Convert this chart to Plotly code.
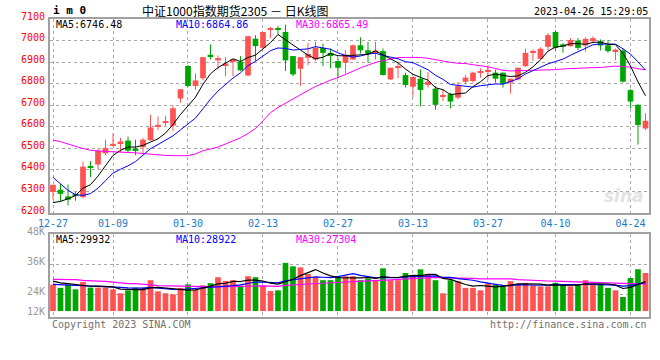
import plotly.graph_objects as go

# ---------------- data ----------------
tick_idx = [0, 8, 18, 28, 38, 48, 58, 67, 77]
tick_labels = ["12-27", "01-09", "01-30", "02-13", "02-27", "03-13", "03-27", "04-10", "04-24"]

opens = [6297, 6308, 6277, 6284, 6274, 6415, 6425, 6477, 6515, 6523,
         6536, 6500, 6505, 6538, 6603, 6618, 6605, 6731, 6882, 6789,
         6825, 6931, 6908, 6886, 6905, 6902, 6838, 7009, 6966, 7051,
         7052, 7040, 6928, 6869, 6920, 6912, 6966, 6943, 6905, 6897,
         6912, 6978, 6955, 6946, 6951, 6820, 6874, 6840, 6786, 6823,
         6794, 6777, 6740, 6751, 6735, 6809, 6812, 6851, 6858, 6851,
         6851, 6805, 6820, 6881, 6946, 6915, 6971, 7040, 6982, 6974,
         7000, 6977, 6997, 6997, 6978, 6951, 6954, 6770, 6702, 6592]
highs = [6331, 6335, 6332, 6297, 6438, 6440, 6497, 6540, 6569, 6548,
         6555, 6540, 6548, 6655, 6648, 6651, 6697, 6774, 6886, 6848,
         6923, 6982, 6931, 6923, 6915, 6928, 7023, 7025, 7040, 7063,
         7069, 7074, 6928, 6923, 6989, 6994, 6986, 6963, 6920, 6955,
         6982, 7015, 6994, 6994, 6963, 6874, 6897, 6851, 6835, 6866,
         6854, 6789, 6774, 6758, 6808, 6840, 6855, 6871, 6885, 6866,
         6851, 6823, 6874, 6962, 6958, 6969, 7035, 7048, 6989, 7012,
         7012, 7015, 7020, 7005, 7002, 6963, 6963, 6775, 6705, 6663]
lows = [6263, 6254, 6235, 6257, 6269, 6366, 6402, 6469, 6509, 6482,
        6478, 6469, 6478, 6535, 6585, 6605, 6582, 6712, 6786, 6771,
        6815, 6912, 6866, 6835, 6835, 6858, 6835, 6905, 6963, 7012,
        7028, 6858, 6835, 6789, 6886, 6905, 6881, 6871, 6825, 6848,
        6909, 6940, 6897, 6912, 6838, 6817, 6825, 6782, 6738, 6694,
        6782, 6679, 6720, 6685, 6728, 6797, 6805, 6828, 6820, 6805,
        6782, 6754, 6815, 6878, 6905, 6912, 6955, 6954, 6943, 6971,
        6955, 6948, 6992, 6954, 6943, 6909, 6805, 6685, 6517, 6585]
closes = [6331, 6289, 6262, 6280, 6415, 6411, 6489, 6502, 6519, 6532,
          6489, 6488, 6540, 6597, 6607, 6622, 6686, 6774, 6789, 6815,
          6923, 6928, 6919, 6894, 6912, 6862, 7020, 6974, 7040, 7058,
          7049, 6908, 6843, 6923, 6938, 6966, 6943, 6928, 6874, 6935,
          6978, 6955, 6938, 6954, 6840, 6874, 6877, 6794, 6831, 6771,
          6809, 6702, 6748, 6717, 6789, 6828, 6851, 6858, 6861, 6823,
          6800, 6823, 6874, 6943, 6951, 6962, 7025, 6966, 6971, 7002,
          6966, 7008, 7011, 6977, 6951, 6958, 6809, 6717, 6608, 6628]
volumes = [27900, 26600, 27900, 26000, 29000, 26700, 26700, 26700, 26000, 24400,
           25600, 26700, 26700, 29700, 25200, 24400, 24000, 26600, 28000, 25900,
           27600, 28500, 30900, 29400, 29700, 27400, 31300, 30900, 27500, 25300,
           25600, 36700, 35300, 34900, 32200, 30900, 29700, 29700, 31300, 31300,
           31300, 29700, 30400, 29700, 34500, 29700, 29700, 32600, 31700, 34100,
           32200, 29700, 24400, 29700, 29300, 26600, 26600, 25600, 28300, 27900,
           27600, 29300, 27900, 28600, 27600, 27200, 27200, 28600, 27600, 27200,
           27900, 29700, 28300, 28300, 26600, 25600, 22900, 30600, 34100, 32600]

ma5_head = [6248, 6254, 6266, 6281]
ma10_head = [6365, 6335, 6305, 6285, 6282, 6290, 6315, 6350, 6385]
ma30_head = [6538, 6531, 6520, 6508, 6499, 6491, 6487, 6485, 6484, 6483,
             6482, 6479, 6476, 6472, 6469, 6467, 6466, 6466, 6466, 6474,
             6489, 6497, 6506, 6520, 6534, 6549, 6569, 6592, 6628]
vma5_head = [29300, 28600, 28300, 28000]
vma10_head = [28000, 27900, 27800, 27700, 27600, 27500, 27300, 27100, 26900]
vma30_head = [30000, 30000, 30000, 29900, 29600, 29300, 29300, 29200, 28800, 28400,
              28300, 28300, 28200, 27800, 27500, 27400, 27400, 27300, 27200, 27000,
              27000, 27000, 27000, 27100, 27200, 27200, 27300, 27300, 27400]

price_ticks = [6200, 6300, 6400, 6500, 6600, 6700, 6800, 6900, 7000, 7100]
vol_ticks = [24000, 36000, 48000]
vol_tick_labels = ["24K", "36K", "48K"]
vol_low_label = "12K"

title_text = "中证1000指数期货2305 － 日K线图"
code_text = "i m 0"
time_text = "2023-04-26 15:29:05"
ma_price_text = ["MA5:6746.48", "MA10:6864.86", "MA30:6865.49"]
ma_vol_text = ["MA5:29932", "MA10:28922", "MA30:27304"]

# ---------------- helpers ----------------
def moving_avg(vals, n, head):
    out = list(head)
    for i in range(len(head), len(vals)):
        w = vals[i - n + 1:i + 1]
        out.append(sum(w) / n)
    return out

n = len(closes)
xs = list(range(n))
ma5 = moving_avg(closes, 5, ma5_head)
ma10 = moving_avg(closes, 10, ma10_head)
ma30 = moving_avg(closes, 30, ma30_head)
vma5 = moving_avg(volumes, 5, vma5_head)
vma10 = moving_avg(volumes, 10, vma10_head)
vma30 = moving_avg(volumes, 30, vma30_head)

RED = "#FF5252"
GREEN = "#00A600"
MONO = "DejaVu Sans Mono"
W, H = 660, 360
L, R = 50, 649
P_TOP, P_BOT = 19, 213
V_TOP, V_BOT = 234, 317

def px(x):
    return x / W

def py(y):
    return 1 - y / H

up = [c >= o for o, c in zip(opens, closes)]

fig = go.Figure()

# wicks
for flag, col in ((True, RED), (False, GREEN)):
    wx, wy = [], []
    for i in xs:
        if up[i] == flag:
            wx += [i, i, None]
            wy += [lows[i], highs[i], None]
    fig.add_trace(go.Scatter(x=wx, y=wy, mode="lines", line=dict(color=col, width=1),
                             xaxis="x", yaxis="y", hoverinfo="skip"))

# bodies
for flag, col in ((True, RED), (False, GREEN)):
    bx = [i for i in xs if up[i] == flag]
    base = [min(opens[i], closes[i]) for i in bx]
    hgt = [max(abs(closes[i] - opens[i]), 6) for i in bx]
    fig.add_trace(go.Bar(x=bx, y=hgt, base=base, width=0.76, marker=dict(color=col, line=dict(width=0)),
                         xaxis="x", yaxis="y", hoverinfo="skip"))

# price MAs
for vals, col in ((ma30, "#FF00FF"), (ma10, "#0000FF"), (ma5, "#000000")):
    fig.add_trace(go.Scatter(x=xs, y=vals, mode="lines", line=dict(color=col, width=1),
                             xaxis="x", yaxis="y", hoverinfo="skip"))

# volume bars
VBASE = 17200
for flag, col in ((True, RED), (False, GREEN)):
    bx = [i for i in xs if up[i] == flag]
    fig.add_trace(go.Bar(x=bx, y=[volumes[i] - VBASE for i in bx], base=VBASE, width=0.76,
                         marker=dict(color=col, line=dict(width=0)),
                         xaxis="x2", yaxis="y2", hoverinfo="skip"))

for vals, col in ((vma30, "#FF00FF"), (vma10, "#0000FF"), (vma5, "#000000")):
    fig.add_trace(go.Scatter(x=xs, y=vals, mode="lines", line=dict(color=col, width=1.2),
                             xaxis="x2", yaxis="y2", hoverinfo="skip"))

grid = dict(showgrid=True, gridcolor="#A8A8A8", griddash="dot", gridwidth=1,
            showline=True, linecolor="#A0A0A0", linewidth=1.5, mirror=True,
            zeroline=False, ticks="", automargin=False)

fig.update_layout(
    width=W, height=H, margin=dict(l=0, r=0, t=0, b=0, pad=0, autoexpand=False),
    paper_bgcolor="white", plot_bgcolor="white",
    showlegend=False, barmode="overlay", hovermode=False,
    xaxis=dict(domain=[px(L), px(R)], range=[-0.4, 79.47], anchor="y",
               tickvals=tick_idx, ticktext=tick_labels,
               tickfont=dict(family=MONO, size=10, color="#1A7CC8"), **grid),
    xaxis2=dict(domain=[px(L), px(R)], range=[-0.4, 79.47], anchor="y2", matches="x",
                tickvals=tick_idx, showticklabels=False, **grid),
    yaxis=dict(domain=[py(P_BOT), py(P_TOP)], range=[6200, 7100], anchor="x",
               tickvals=price_ticks, showticklabels=False, **grid),
    yaxis2=dict(domain=[py(V_BOT), py(V_TOP)], range=[14800, 48400], anchor="x2",
                tickvals=vol_ticks, showticklabels=False, **grid),
)

ann = []
def text(x, y, s, color="#000", size=10, anchor="left", family=MONO, bold=False, italic=False):
    if bold:
        s = "<b>" + s + "</b>"
    if italic:
        s = "<i>" + s + "</i>"
    ann.append(dict(x=px(x), y=py(y), xref="paper", yref="paper", text=s, showarrow=False,
                    xanchor=anchor, yanchor="middle", font=dict(family=family, size=size, color=color)))

# y tick labels (sit just above their grid lines, as in the original)
for v in price_ticks:
    ann.append(dict(x=px(47), y=v, xref="paper", yref="y", text=str(v), showarrow=False,
                    xanchor="right", yanchor="middle", yshift=3,
                    font=dict(family=MONO, size=10, color="#FF0000")))
for v, s in zip(vol_ticks, vol_tick_labels):
    ann.append(dict(x=px(47), y=v, xref="paper", yref="y2", text=s, showarrow=False,
                    xanchor="right", yanchor="middle", yshift=3,
                    font=dict(family=MONO, size=10, color="#999999")))
text(47, 311, vol_low_label, color="#999999", anchor="right")

text(51, 10.5, code_text, size=11, bold=True)
text(140, 10.5, title_text, size=12, family="Noto Sans CJK SC")
text(650, 12, time_text, size=10, anchor="right")
for s, x0, col in zip(ma_price_text, (54, 174, 294), ("#000000", "#0000FF", "#FF00FF")):
    text(x0, 24.5, s, color=col)
for s, x0, col in zip(ma_vol_text, (54, 174, 294), ("#000000", "#0000FF", "#FF00FF")):
    text(x0, 239, s, color=col)
text(50, 324, "Copyright 2023 SINA.COM", color="#707070")
text(649, 324, "http://finance.sina.com.cn", color="#707070", anchor="right")
text(646, 196, "sina", color="#E2E2E2", size=17, anchor="right", family="DejaVu Sans", bold=True, italic=True)
fig.update_layout(annotations=ann)

fig.write_html("out.html", config={"displayModeBar": False},
               post_script="document.body.style.margin='0';document.body.style.padding='0';")
